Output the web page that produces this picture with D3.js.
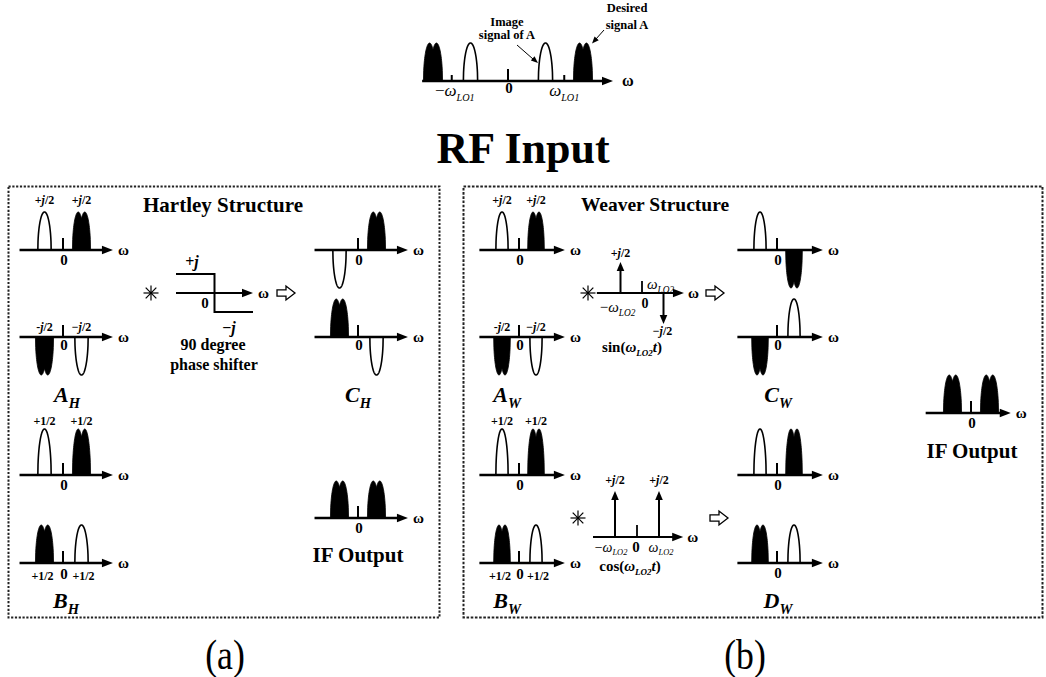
<!DOCTYPE html>
<html><head><meta charset="utf-8">
<script src="https://cdn.jsdelivr.net/npm/d3@7"></script>
<style>
body{margin:0;background:#fff}
svg{display:block}
</style>
</head><body>
<svg id="fig" width="1046" height="677"></svg>
<script>
// ---------- spectral content (ω in units of ω_IF, a = sign of amplitude) ----------
const rfInput = [
  {w:-2, kind:"signal", a:1}, {w:-1, kind:"image", a:1},
  {w: 1, kind:"image",  a:1}, {w: 2, kind:"signal", a:1}];
const rfLoTicks = [-1.5, 1.5];

const spectrumA_top    = [{w:-1, kind:"image",  a: 1}, {w:1, kind:"signal", a: 1}];
const spectrumA_bottom = [{w:-1, kind:"signal", a:-1}, {w:1, kind:"image",  a:-1}];
const spectrumB_top    = [{w:-1, kind:"image",  a: 1}, {w:1, kind:"signal", a: 1}];
const spectrumB_bottom = [{w:-1, kind:"signal", a: 1}, {w:1, kind:"image",  a: 1}];
const hartleyC_top     = [{w:-1, kind:"image",  a:-1}, {w:1, kind:"signal", a: 1}];
const hartleyC_bottom  = [{w:-1, kind:"signal", a: 1}, {w:1, kind:"image",  a:-1}];
const weaverC_top      = [{w:-1, kind:"image",  a: 1}, {w:1, kind:"signal", a:-1}];
const weaverC_bottom   = [{w:-1, kind:"signal", a:-1}, {w:1, kind:"image",  a: 1}];
const weaverD_top      = [{w:-1, kind:"image",  a: 1}, {w:1, kind:"signal", a: 1}];
const weaverD_bottom   = [{w:-1, kind:"signal", a: 1}, {w:1, kind:"image",  a: 1}];
const ifOutput         = [{w:-1, kind:"signal", a: 1}, {w:1, kind:"signal", a: 1}];

// Hilbert transformer: +j for ω<0, −j for ω>0
const phaseShifter = [{w:-1, a:1}, {w:0, a:1}, {w:0, a:-1}, {w:1, a:-1}];
// LO2 spectra (impulses at ±ω_LO2)
const sinLO2 = [{w:-1, a: 1}, {w:1, a:-1}];
const cosLO2 = [{w:-1, a: 1}, {w:1, a: 1}];

// coefficient labels
const coefA_top    = [[["+",""],["j","i"],["/2",""]], [["+",""],["j","i"],["/2",""]]];
const coefA_bottom = [[["-",""],["j","i"],["/2",""]], [["−",""],["j","i"],["/2",""]]];
const coefB        = [[["+1/2",""]], [["+1/2",""]]];
const jHalfUp   = [["+",""],["j","i"],["/2",""]];
const jHalfDown = [["−",""],["j","i"],["/2",""]];

// ---------- drawing helpers ----------
const SERIF = '"Liberation Serif","Times New Roman",serif';
const svg = d3.select("#fig");

function label(x, y, parts, o = {}) {
  const size = o.size || 14;
  const t = svg.append("text")
    .attr("x", x).attr("y", y)
    .attr("font-family", SERIF)
    .attr("font-size", size)
    .attr("font-weight", o.weight || "bold")
    .attr("text-anchor", o.anchor || "middle")
    .attr("fill", "#000");
  if (typeof parts === "string") parts = [[parts, ""]];
  let shifted = 0;
  parts.forEach(([s, st]) => {
    const ts = t.append("tspan").text(s);
    let dy;
    if (st === "isub" || st === "sub") {
      const d = size * (o.subDrop || 0.28); dy = d - shifted; shifted = d;
      ts.attr("font-size", size * (o.subScale || 0.66));
    } else { dy = -shifted; shifted = 0; }
    if (dy) ts.attr("dy", dy);
    if (st === "i" || st === "isub") ts.attr("font-style", "italic");
  });
  if (o.transform) t.attr("transform", o.transform);
  return t;
}

function arrowHead(g, x, y, ang, len = 10, hw = 4) {
  const c = Math.cos(ang), s = Math.sin(ang);
  const bx = x - len * c, by = y - len * s;
  g.append("path")
    .attr("d", `M${x},${y}L${bx - hw * s},${by + hw * c}L${bx + hw * s},${by - hw * c}Z`)
    .attr("fill", "#000");
}

function hAxis(g, x0, x1, y, sw = 2.4) {
  g.append("line").attr("x1", x0).attr("x2", x1 - 6).attr("y1", y).attr("y2", y)
    .attr("stroke", "#000").attr("stroke-width", sw);
  arrowHead(g, x1, y, 0, 11, 4.2);
}

function star(x, y, r) {
  const g = svg.append("g");
  [0, 45, 90, 135].forEach(a => {
    const c = Math.cos(a * Math.PI / 180) * r, s = Math.sin(a * Math.PI / 180) * r;
    g.append("line").attr("x1", x - c).attr("y1", y - s).attr("x2", x + c).attr("y2", y + s)
      .attr("stroke", "#000").attr("stroke-width", 1.2);
  });
  g.append("circle").attr("cx", x).attr("cy", y).attr("r", 1.3).attr("fill", "#000");
}

function hollowArrow(x, y) {
  svg.append("path")
    .attr("d", `M${x},${y - 3.2}H${x + 9}V${y - 7}L${x + 18},${y}L${x + 9},${y + 7}V${y + 3.2}H${x}Z`)
    .attr("fill", "#fff").attr("stroke", "#000").attr("stroke-width", 1.3);
}

// band profiles over u ∈ [-1, 1]
function profile(kind, u) {
  if (kind === "image") return Math.sqrt(Math.max(0, 1 - u * u));
  const e = v => Math.pow(Math.max(0, 1 - Math.pow(Math.abs(v) / 0.64, 2)), 0.5);
  return Math.max(e(u + 0.36), e(u - 0.36));
}

// one ω-axis sketch with bands
function spectrum(p) {
  const g = svg.append("g");
  const x = d3.scaleLinear().domain([0, 1]).range([p.zero, p.zero + p.unit]);
  const y = d3.scaleLinear().domain([0, 1]).range([p.y, p.y - p.h]);
  hAxis(g, x(p.from), x(p.to), p.y);
  g.append("line").attr("x1", x(0)).attr("x2", x(0)).attr("y1", p.y).attr("y2", p.y - (p.tick || 12))
    .attr("stroke", "#000").attr("stroke-width", 2);
  (p.loTicks || []).forEach(w => {
    g.append("line").attr("x1", x(w)).attr("x2", x(w)).attr("y1", p.y).attr("y2", p.y - 6)
      .attr("stroke", "#000").attr("stroke-width", 2);
  });
  const line = d3.line().x(d => x(d[0])).y(d => y(d[1]));
  p.bands.forEach(b => {
    const hw = b.kind === "signal" ? p.sigHW : p.imgHW;
    const pts = d3.range(0, 81).map(i => {
      const u = -1 + 2 * i / 80;
      return [b.w + u * hw, b.a * profile(b.kind, u)];
    });
    if (b.kind === "signal") {
      g.append("path").attr("d", line(pts) + "Z").attr("fill", "#000").attr("stroke", "#000").attr("stroke-width", 0.8);
    } else {
      g.append("path").attr("d", line(pts)).attr("fill", "none").attr("stroke", "#000").attr("stroke-width", 1.6);
    }
  });
  label(x(p.to) + (p.omegaGap || 5), p.y + 5, "ω", {anchor: "start", size: p.omegaSize || 15});
  if (p.zeroLabel !== false) label(x(0) + 1, p.y + (p.zeroDy || 15), "0", {size: 15});
  if (p.coef) {
    p.bands.forEach((b, i) => {
      let yy;
      if (p.coefPos === "above") yy = p.y - p.h - p.coefGap;
      else if (p.coefPos === "axisAbove") yy = p.y - 6;
      else yy = p.y + 17;
      label(x(b.w) + (p.coefPos === "below" ? (b.w < 0 ? -2 : 2) : 0), yy, p.coef[i], {size: 12});
    });
  }
  return {x, y};
}

// ---------- top: RF input ----------
const rf = spectrum({zero: 508, unit: 37.5, from: -2.29, to: 2.8, y: 81, h: 38,
  sigHW: 0.255, imgHW: 0.19, bands: rfInput, loTicks: rfLoTicks, zeroLabel: false,
  omegaGap: 9, omegaSize: 16});
label(rf.x(0) + 1, 93, "0", {size: 15});
label(rf.x(-1.5) + 3, 96, [["−", ""], ["ω", "i"], ["LO1", "isub"]], {size: 17, weight: "normal", subScale: 0.6});
label(rf.x(1.5), 96, [["ω", "i"], ["LO1", "isub"]], {size: 17, weight: "normal", subScale: 0.6});

label(507, 26, "Image", {size: 12.5});
label(507, 39, "signal of A", {size: 12.5});
label(627, 12, "Desired", {size: 12.5});
label(627, 29, "signal A", {size: 12.5});
{
  const g = svg.append("g");
  g.append("line").attr("x1", 517).attr("y1", 45).attr("x2", 533).attr("y2", 59).attr("stroke", "#000").attr("stroke-width", 1);
  arrowHead(g, 538, 63, Math.atan2(18, 21), 7, 2.8);
  g.append("line").attr("x1", 604).attr("y1", 30).attr("x2", 596).attr("y2", 39).attr("stroke", "#000").attr("stroke-width", 1);
  arrowHead(g, 592, 43.5, Math.atan2(13.5, -12), 7, 2.8);
}

label(523, 163, "RF Input", {size: 44});

// ---------- frames ----------
svg.append("rect").attr("x", 8.5).attr("y", 186.5).attr("width", 431).attr("height", 431)
  .attr("fill", "none").attr("stroke", "#222").attr("stroke-width", 2).attr("stroke-dasharray", "2.2,1.6");
svg.append("rect").attr("x", 463.5).attr("y", 186.5).attr("width", 579).attr("height", 431)
  .attr("fill", "none").attr("stroke", "#222").attr("stroke-width", 2).attr("stroke-dasharray", "2.6,1.6");

label(223, 212, "Hartley Structure", {size: 21});
label(655, 211, "Weaver Structure", {size: 19.5});

// ---------- sketch panels ----------
const hartley = {unit: 18.5, from: -2.35, to: 2.7, sigHW: 0.49, imgHW: 0.36};
const weaver  = {unit: 17,   from: -2.33, to: 2.7, sigHW: 0.49, imgHW: 0.36};
const H = o => Object.assign({}, hartley, o);
const W = o => Object.assign({}, weaver, o);

const panels = [
  // Hartley
  H({zero: 63,  y: 250, h: 38, bands: spectrumA_top,    coef: coefA_top,    coefPos: "above", coefGap: 8}),
  H({zero: 63,  y: 337, h: 38, bands: spectrumA_bottom, coef: coefA_bottom, coefPos: "axisAbove", zeroDy: 13}),
  H({zero: 358, y: 250, h: 38, bands: hartleyC_top}),
  H({zero: 358, y: 337, h: 38, bands: hartleyC_bottom, zeroDy: 13}),
  H({zero: 63,  y: 475, h: 46, bands: spectrumB_top,    coef: coefB, coefPos: "above", coefGap: 4}),
  H({zero: 63,  y: 563, h: 38, bands: spectrumB_bottom, coef: coefB, coefPos: "below", zeroDy: 16}),
  H({zero: 358, y: 518, h: 37, bands: ifOutput}),
  // Weaver
  W({zero: 519, y: 250, h: 38, bands: spectrumA_top,    coef: coefA_top,    coefPos: "above", coefGap: 8}),
  W({zero: 519, y: 337, h: 38, bands: spectrumA_bottom, coef: coefA_bottom, coefPos: "axisAbove", zeroDy: 13}),
  W({zero: 777, y: 250, h: 38, bands: weaverC_top}),
  W({zero: 777, y: 337, h: 38, bands: weaverC_bottom, zeroDy: 13}),
  W({zero: 519, y: 475, h: 46, bands: spectrumB_top,    coef: coefB, coefPos: "above", coefGap: 4}),
  W({zero: 519, y: 563, h: 38, bands: spectrumB_bottom, coef: coefB, coefPos: "below", zeroDy: 16}),
  W({zero: 777, y: 475, h: 46, bands: weaverD_top}),
  W({zero: 777, y: 563, h: 38, bands: weaverD_bottom}),
  H({zero: 971, y: 413, h: 38, bands: ifOutput, from: -2.45, to: 2.15})
];
panels.forEach(spectrum);

// captions
const sub = (a, b) => [[a, "i"], [b, "isub"]];
label(67, 402, sub("A", "H"), {size: 22});
label(358, 402, sub("C", "H"), {size: 22});
label(66, 608, sub("B", "H"), {size: 22});
label(358, 562, "IF Output", {size: 21});
label(507, 402, sub("A", "W"), {size: 22});
label(778, 402, sub("C", "W"), {size: 22});
label(507, 608, sub("B", "W"), {size: 22});
label(778, 608, sub("D", "W"), {size: 22});
label(972, 458, "IF Output", {size: 21});

// ---------- Hartley: 90° phase shifter ----------
star(151, 293, 7.5);
{
  const g = svg.append("g");
  const x = d3.scaleLinear().domain([-1, 1]).range([176, 253]);
  const y = d3.scaleLinear().domain([-1, 1]).range([312, 274]);
  hAxis(g, x(-1), x(1), y(0), 2);
  g.append("path").attr("d", d3.line().x(d => x(d.w)).y(d => y(d.a))(phaseShifter))
    .attr("fill", "none").attr("stroke", "#000").attr("stroke-width", 2);
  label(x(1) + 5, y(0) + 5, "ω", {anchor: "start", size: 15});
  label(192, 267, [["+", ""], ["j", "i"]], {size: 16});
  label(205, 308, "0", {size: 15});
  label(229, 333, [["−", ""], ["j", "i"]], {size: 16});
  label(213, 350, "90 degree", {size: 16});
  label(214, 370, "phase shifter", {size: 16});
}
hollowArrow(277, 293);

// ---------- Weaver: LO2 multiplications ----------
function impulses(zero, yAxis, from, to, unit, len, data) {
  const g = svg.append("g");
  const x = d3.scaleLinear().domain([0, 1]).range([zero, zero + unit]);
  const y = d3.scaleLinear().domain([0, 1]).range([yAxis, yAxis - len]);
  hAxis(g, x(from), x(to), yAxis, 2.2);
  g.append("line").attr("x1", x(0)).attr("x2", x(0)).attr("y1", yAxis).attr("y2", yAxis - 12)
    .attr("stroke", "#000").attr("stroke-width", 1.8);
  data.forEach(d => {
    const yt = y(d.a), dir = d.a > 0 ? -1 : 1;
    g.append("line").attr("x1", x(d.w)).attr("x2", x(d.w)).attr("y1", yAxis).attr("y2", yt - dir * 7)
      .attr("stroke", "#000").attr("stroke-width", 2);
    arrowHead(g, x(d.w), yt, dir * Math.PI / 2, 9, 3.8);
  });
  label(x(to) + 4, yAxis + 5, "ω", {anchor: "start", size: 15});
  return {x, y};
}

star(588, 293, 7.5);
{
  const s = impulses(642, 293, -2.1, 1.95, 21.5, 31, sinLO2);
  label(s.x(-1), 257, jHalfUp, {size: 12});
  label(s.x(1) - 1, 335, jHalfDown, {size: 12});
  label(s.x(-1) - 3, 312, [["−", ""], ["ω", "i"], ["LO2", "isub"]], {size: 15, weight: "normal", subScale: 0.62});
  label(s.x(0) + 3, 308, "0", {size: 14});
  label(s.x(1) - 3, 289, [["ω", "i"], ["LO2", "isub"]], {size: 15, weight: "normal", subScale: 0.62});
  label(632, 352, [["sin(", ""], ["ω", "i"], ["LO2", "isub"], ["t", "i"], [")", ""]], {size: 15, subScale: 0.6});
}
hollowArrow(706, 293);

star(578, 518, 7.5);
{
  const c = impulses(637, 537, -2.0, 2.1, 22, 46, cosLO2);
  label(c.x(-1), 484, jHalfUp, {size: 12});
  label(c.x(1), 484, jHalfUp, {size: 12});
  label(c.x(-1) - 4, 552, [["−", ""], ["ω", "i"], ["LO2", "isub"]], {size: 14, weight: "normal", subScale: 0.6, subDrop: 0.2});
  label(c.x(0) - 1, 552, "0", {size: 15});
  label(c.x(1) + 2, 552, [["ω", "i"], ["LO2", "isub"]], {size: 14, weight: "normal", subScale: 0.6, subDrop: 0.2});
  label(630, 571, [["cos(", ""], ["ω", "i"], ["LO2", "isub"], ["t", "i"], [")", ""]], {size: 15, subScale: 0.6});
}
hollowArrow(710, 518);

// ---------- sub-figure tags ----------
label(0, 0, "(a)", {size: 42, weight: "normal", transform: "translate(225,669) scale(0.85,1)"});
label(0, 0, "(b)", {size: 42, weight: "normal", transform: "translate(745,669) scale(0.85,1)"});
</script>
</body></html>
